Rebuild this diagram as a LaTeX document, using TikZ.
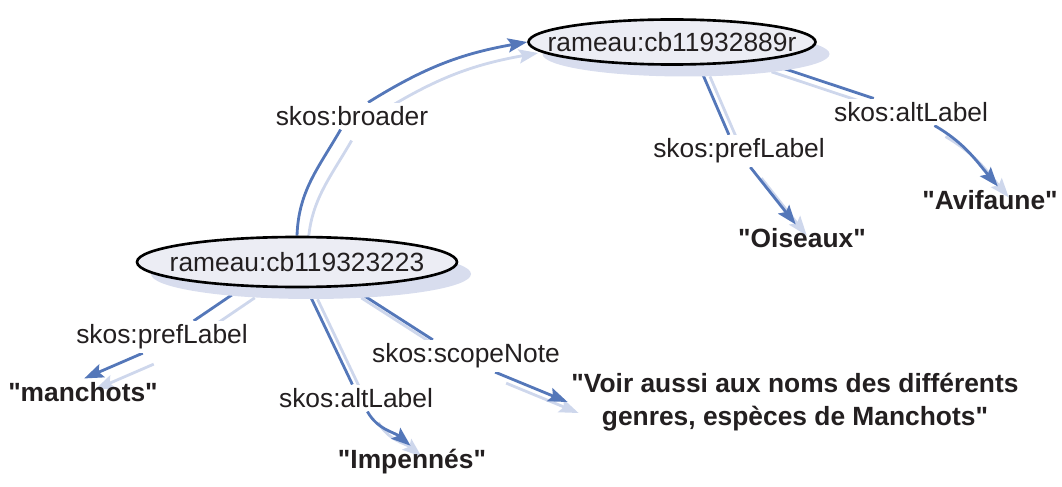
\documentclass[tikz,border=0pt]{standalone}
\usepackage{fontspec}
\setmainfont{Liberation Sans}[Ligatures=TeXOff]
\usetikzlibrary{arrows.meta,shadows,shapes.geometric,backgrounds}
\definecolor{relblue}{RGB}{84,119,185}
\definecolor{relshade}{RGB}{206,215,236}
\definecolor{conceptfill}{RGB}{236,237,244}
\definecolor{conceptshade}{RGB}{216,221,238}
\definecolor{ink}{RGB}{35,31,32}

\begin{document}
\begin{tikzpicture}[
  font=\fontsize{15}{18.7}\selectfont, text=ink,
  concept/.style={ellipse,draw=black,line width=1.5pt,fill=conceptfill,inner xsep=-1cm,inner ysep=0pt,drop shadow={shadow xshift=0.28cm,shadow yshift=-0.24cm,fill=conceptshade,opacity=1}},
  literal/.style={font=\fontsize{15}{18.7}\selectfont\bfseries,inner sep=2pt,align=center},
  relname/.style={fill=white,inner sep=2pt},
  reltip/.style={-{Stealth[length=11pt,width=8pt,inset=2pt]}},
  rel/.style={draw=relblue,line width=1.6pt,reltip,preaction={draw=relshade,line width=1.6pt,reltip,transform canvas={shift={(0.22,-0.22)}}}}
]
  \useasboundingbox (0,0) rectangle (21.24,9.72);
  \node[concept,minimum width=5.74cm,minimum height=0.90cm] (c89r) at (13.440,8.880) {rameau:cb11932889r};
  \node[concept,minimum width=6.40cm,minimum height=1.00cm] (c223) at (5.940,4.480) {rameau:cb119323223};
  \node[literal] (oiseaux) at (16.040,4.960) {"Oiseaux"};
  \node[literal] (avifaune) at (19.800,5.720) {"Avifaune"};
  \node[literal] (manchots) at (1.660,1.880) {"manchots"};
  \node[literal] (impennes) at (8.240,0.480) {"Impennés"};
  \node[literal] (voir) at (15.900,1.680) {"Voir aussi aux noms des différents\\genres, espèces de Manchots"};
  \node[relname] (lbroader) at (7.040,7.400) {skos:broader};
  \node[relname] (lpreftop) at (14.780,6.700) {skos:prefLabel};
  \node[relname] (lalttop) at (18.220,7.480) {skos:altLabel};
  \node[relname] (lprefbot) at (3.240,2.980) {skos:prefLabel};
  \node[relname] (laltbot) at (7.120,1.760) {skos:altLabel};
  \node[relname] (lscope) at (9.320,2.600) {skos:scopeNote};
  \begin{pgfonlayer}{background}
  \draw[rel] (c223.north) to[out=88,in=240] (lbroader.-130) (lbroader.40) to[out=32,in=190] (c89r.west);
  \draw[rel] (c89r.-41) -- (lpreftop.122) (lpreftop.-55) -- (oiseaux.115);
  \draw[rel] (c89r.-12) -- (lalttop.160) (lalttop.-30) to[out=-30,in=130] (avifaune.60);
  \draw[rel] (c223.-155) -- (lprefbot.27) (lprefbot.-140) -- (manchots.85);
  \draw[rel] (c223.-70) -- (laltbot.105) (laltbot.-50) to[out=-60,in=140] (impennes.95);
  \draw[rel] (c223.-25) -- (lscope.154) (lscope.-29) -- (voir.west);
  \end{pgfonlayer}
\end{tikzpicture}
\end{document}
